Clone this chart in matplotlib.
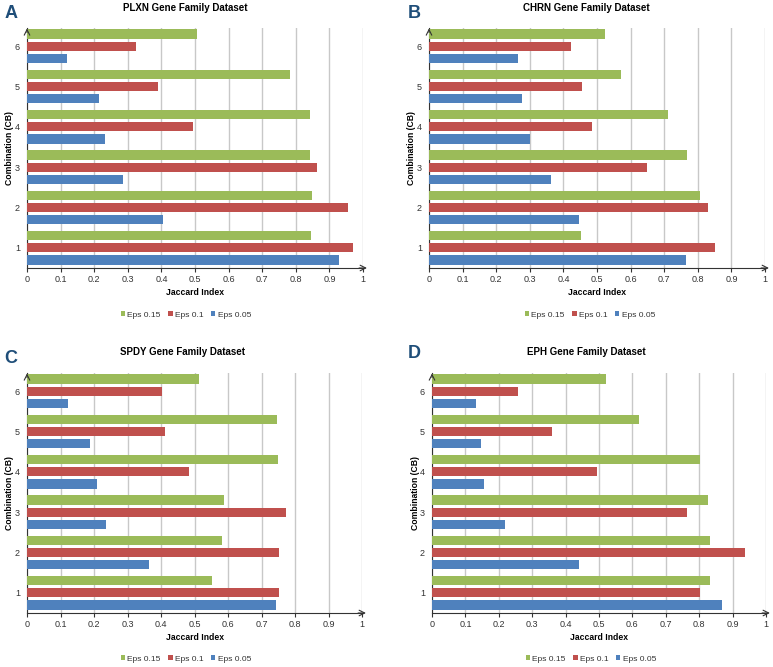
import matplotlib.pyplot as plt
import numpy as np

plt.rcParams['font.family'] = ['Liberation Sans', 'DejaVu Sans']

combos = [1, 2, 3, 4, 5, 6]
series_names = ["Eps 0.15", "Eps 0.1", "Eps 0.05"]
colors = ["#9BBB59", "#C0504D", "#4F81BD"]

# values per panel, combination 1..6
plxn_015 = [0.846, 0.847, 0.843, 0.841, 0.783, 0.507]
plxn_01 = [0.971, 0.956, 0.863, 0.495, 0.391, 0.323]
plxn_005 = [0.930, 0.406, 0.287, 0.232, 0.214, 0.120]

chrn_015 = [0.451, 0.807, 0.769, 0.710, 0.571, 0.525]
chrn_01 = [0.851, 0.830, 0.650, 0.486, 0.454, 0.422]
chrn_005 = [0.765, 0.446, 0.363, 0.302, 0.278, 0.264]

spdy_015 = [0.553, 0.583, 0.587, 0.750, 0.747, 0.513]
spdy_01 = [0.751, 0.753, 0.774, 0.483, 0.412, 0.402]
spdy_005 = [0.742, 0.364, 0.236, 0.209, 0.187, 0.121]

eph_015 = [0.832, 0.831, 0.827, 0.802, 0.619, 0.522]
eph_01 = [0.802, 0.936, 0.762, 0.495, 0.359, 0.258]
eph_005 = [0.868, 0.440, 0.220, 0.156, 0.146, 0.131]

panels = [
    ("A", "PLXN Gene Family Dataset", [plxn_015, plxn_01, plxn_005]),
    ("B", "CHRN Gene Family Dataset", [chrn_015, chrn_01, chrn_005]),
    ("C", "SPDY Gene Family Dataset", [spdy_015, spdy_01, spdy_005]),
    ("D", "EPH Gene Family Dataset", [eph_015, eph_01, eph_005]),
]

W, H = 773, 667
# axes boxes in pixels: left, right, top, bottom
boxes = [(27, 363, 28, 268), (429, 765, 28, 268),
         (27, 362, 373, 613), (432, 766, 373, 613)]
# title centre, legend centre, panel letter centre (pixels)
title_pos = [(185, 8), (586, 8), (183, 352), (586, 352)]
legend_pos = [(186, 315), (590, 315), (186, 659), (591, 659)]
letter_pos = [(11, 14), (414, 14), (11, 358), (414, 354)]

fig = plt.figure(figsize=(W / 100, H / 100), dpi=100)

for i, (letter, title, vals) in enumerate(panels):
    l, r, t, b = boxes[i]
    ax = fig.add_axes([l / W, 1 - b / H, (r - l) / W, (b - t) / H])
    y = np.array(combos)
    offsets = [0.3, 0.0, -0.3]
    for v, off, c, name in zip(vals, offsets, colors, series_names):
        ax.barh(y + off, v, height=0.23, color=c, label=name, zorder=3)
    ax.set_xlim(0, 1)
    ax.set_ylim(0.5, 6.45)
    ax.set_xticks(np.arange(0, 1.01, 0.1))
    ax.set_xticklabels(["0", "0.1", "0.2", "0.3", "0.4", "0.5", "0.6", "0.7", "0.8", "0.9", "1"])
    ax.set_yticks(combos)
    ax.tick_params(axis='x', labelsize=6.5, length=3, pad=2, colors='#333333', labelcolor='#333333')
    ax.tick_params(axis='y', labelsize=6.5, length=0, pad=5, labelcolor='#333333')
    ax.grid(axis='x', color='#C8C8C8', linewidth=1.0, zorder=0)
    for s in ['top', 'right']:
        ax.spines[s].set_visible(False)
    for s in ['left', 'bottom']:
        ax.spines[s].set_color('#333333')
        ax.spines[s].set_linewidth(0.8)
    # arrow heads on the axes
    ax.annotate("", xy=(1.02, 0), xytext=(0.98, 0), xycoords='axes fraction',
                arrowprops=dict(arrowstyle='->', color='#333333', lw=0.8), annotation_clip=False)
    ax.annotate("", xy=(0, 1.01), xytext=(0, 0.97), xycoords='axes fraction',
                arrowprops=dict(arrowstyle='->', color='#333333', lw=0.8), annotation_clip=False)
    ax.set_xlabel("Jaccard Index", fontsize=6.2, fontweight='bold', labelpad=3)
    ax.text(-17 / (r - l), 0.5, "Combination (CB)", transform=ax.transAxes, rotation=90,
            fontsize=6.2, fontweight='bold', ha='center', va='center')
    tx, ty = title_pos[i]
    fig.text(tx / W, 1 - ty / H, title, fontsize=7, fontweight='bold', ha='center', va='center')
    lx, lyy = letter_pos[i]
    fig.text(lx / W, 1 - lyy / H, letter, fontsize=13, fontweight='bold',
             color='#1F4E79', ha='center', va='center')
    gx, gy = legend_pos[i]
    ax.legend(loc='center', bbox_to_anchor=(gx / W, 1 - gy / H),
              bbox_transform=fig.transFigure, ncol=3, frameon=False, fontsize=6,
              handlelength=0.5, handleheight=0.5, handletextpad=0.3, columnspacing=0.9,
              labelcolor='#333333')

fig.savefig("out.png", dpi=100)
